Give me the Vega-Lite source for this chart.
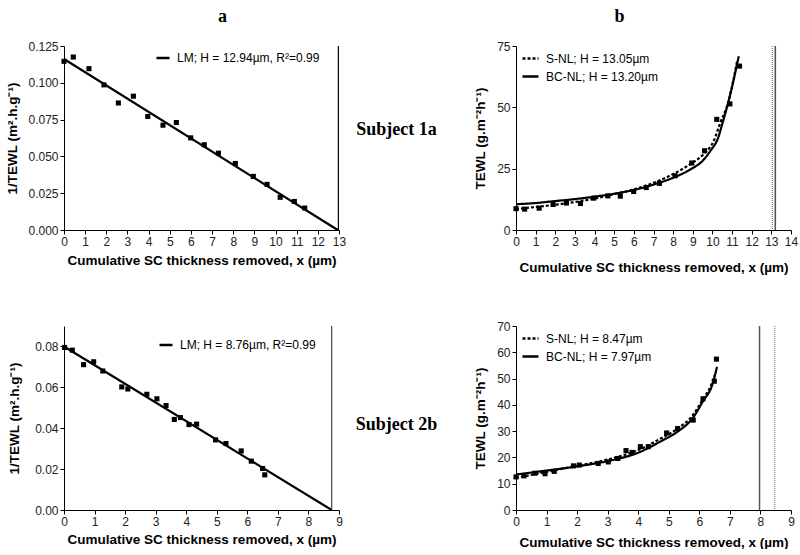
{
  "$schema": "https://vega.github.io/schema/vega-lite/v6.json",
  "padding": {"left": 5, "top": 8, "right": 3, "bottom": 0},
  "background": "white",
  "datasets": {
    "a_pts": [
      {"x": 0, "y": 0.1146}, {"x": 0.44, "y": 0.1175}, {"x": 1.18, "y": 0.1096}, {"x": 1.89, "y": 0.0986},
      {"x": 2.57, "y": 0.0863}, {"x": 3.28, "y": 0.0909}, {"x": 3.96, "y": 0.0771}, {"x": 4.68, "y": 0.0712},
      {"x": 5.31, "y": 0.0730}, {"x": 5.99, "y": 0.0626}, {"x": 6.63, "y": 0.0579}, {"x": 7.30, "y": 0.0522},
      {"x": 8.10, "y": 0.0452}, {"x": 8.95, "y": 0.0364}, {"x": 9.60, "y": 0.0310}, {"x": 10.22, "y": 0.0222},
      {"x": 10.89, "y": 0.0194}, {"x": 11.38, "y": 0.0149}
    ],
    "a_fit": [
      {"model": "LM; H = 12.94µm, R²=0.99", "x": 0, "y": 0.1162},
      {"model": "LM; H = 12.94µm, R²=0.99", "x": 12.94, "y": 0}
    ],
    "a_h": [{"x": 12.97}],
    "b_pts": [
      {"x": 0, "y": 8.7}, {"x": 0.44, "y": 8.5}, {"x": 1.18, "y": 8.9}, {"x": 1.89, "y": 10.4},
      {"x": 2.57, "y": 11.0}, {"x": 3.28, "y": 10.8}, {"x": 3.96, "y": 13.0}, {"x": 4.68, "y": 13.9},
      {"x": 5.31, "y": 13.8}, {"x": 5.99, "y": 15.7}, {"x": 6.63, "y": 17.3}, {"x": 7.30, "y": 19.0},
      {"x": 8.10, "y": 22.1}, {"x": 8.95, "y": 27.3}, {"x": 9.60, "y": 32.3}, {"x": 10.22, "y": 45.1},
      {"x": 10.89, "y": 51.4}, {"x": 11.38, "y": 66.8}
    ],
    "b_curves": [
      {"model": "S-NL; H = 13.05µm", "x": 0, "y": 8.5},
      {"model": "S-NL; H = 13.05µm", "x": 1, "y": 9.4},
      {"model": "S-NL; H = 13.05µm", "x": 2, "y": 10.3},
      {"model": "S-NL; H = 13.05µm", "x": 3, "y": 11.4},
      {"model": "S-NL; H = 13.05µm", "x": 4, "y": 12.8},
      {"model": "S-NL; H = 13.05µm", "x": 5, "y": 14.6},
      {"model": "S-NL; H = 13.05µm", "x": 6, "y": 16.6},
      {"model": "S-NL; H = 13.05µm", "x": 7, "y": 19.2},
      {"model": "S-NL; H = 13.05µm", "x": 8, "y": 22.8},
      {"model": "S-NL; H = 13.05µm", "x": 8.9, "y": 27.0},
      {"model": "S-NL; H = 13.05µm", "x": 9.56, "y": 31.0},
      {"model": "S-NL; H = 13.05µm", "x": 10.07, "y": 36.4},
      {"model": "S-NL; H = 13.05µm", "x": 10.41, "y": 43.9},
      {"model": "S-NL; H = 13.05µm", "x": 10.78, "y": 51.4},
      {"model": "S-NL; H = 13.05µm", "x": 11.26, "y": 69.0},
      {"model": "BC-NL; H = 13.20µm", "x": 0, "y": 10.5},
      {"model": "BC-NL; H = 13.20µm", "x": 1, "y": 11.0},
      {"model": "BC-NL; H = 13.20µm", "x": 2, "y": 11.8},
      {"model": "BC-NL; H = 13.20µm", "x": 3, "y": 12.6},
      {"model": "BC-NL; H = 13.20µm", "x": 4, "y": 13.6},
      {"model": "BC-NL; H = 13.20µm", "x": 5, "y": 14.8},
      {"model": "BC-NL; H = 13.20µm", "x": 6, "y": 16.3},
      {"model": "BC-NL; H = 13.20µm", "x": 7, "y": 18.5},
      {"model": "BC-NL; H = 13.20µm", "x": 8, "y": 21.3},
      {"model": "BC-NL; H = 13.20µm", "x": 8.9, "y": 24.8},
      {"model": "BC-NL; H = 13.20µm", "x": 9.5, "y": 28.2},
      {"model": "BC-NL; H = 13.20µm", "x": 9.9, "y": 32.3},
      {"model": "BC-NL; H = 13.20µm", "x": 10.3, "y": 37.8},
      {"model": "BC-NL; H = 13.20µm", "x": 10.5, "y": 43.2},
      {"model": "BC-NL; H = 13.20µm", "x": 10.9, "y": 55.0},
      {"model": "BC-NL; H = 13.20µm", "x": 11.34, "y": 70.8}
    ],
    "b_h": [{"x": 13.05, "kind": "S-NL"}, {"x": 13.2, "kind": "BC-NL"}],
    "c_pts": [
      {"x": 0.02, "y": 0.0795}, {"x": 0.27, "y": 0.0782}, {"x": 0.64, "y": 0.0711}, {"x": 0.97, "y": 0.0725},
      {"x": 1.27, "y": 0.0680}, {"x": 1.89, "y": 0.0602}, {"x": 2.09, "y": 0.0592}, {"x": 2.71, "y": 0.0566},
      {"x": 3.04, "y": 0.0544}, {"x": 3.34, "y": 0.0511}, {"x": 3.61, "y": 0.0443}, {"x": 3.81, "y": 0.0452},
      {"x": 4.09, "y": 0.0418}, {"x": 4.34, "y": 0.0420}, {"x": 4.96, "y": 0.0343}, {"x": 5.30, "y": 0.0325},
      {"x": 5.80, "y": 0.0289}, {"x": 6.13, "y": 0.0239}, {"x": 6.50, "y": 0.0203}, {"x": 6.57, "y": 0.0172}
    ],
    "c_fit": [
      {"model": "LM; H = 8.76µm, R²=0.99", "x": 0, "y": 0.0800},
      {"model": "LM; H = 8.76µm, R²=0.99", "x": 8.76, "y": 0}
    ],
    "c_h": [{"x": 8.76}],
    "d_pts": [
      {"x": 0, "y": 12.6}, {"x": 0.26, "y": 13.0}, {"x": 0.62, "y": 14.0}, {"x": 0.95, "y": 13.8},
      {"x": 1.25, "y": 14.7}, {"x": 1.88, "y": 16.8}, {"x": 2.07, "y": 17.1}, {"x": 2.69, "y": 17.7},
      {"x": 3.02, "y": 18.3}, {"x": 3.33, "y": 19.6}, {"x": 3.6, "y": 22.6}, {"x": 3.8, "y": 21.9},
      {"x": 4.07, "y": 24.1}, {"x": 4.33, "y": 24.1}, {"x": 4.93, "y": 29.3}, {"x": 5.29, "y": 31.0},
      {"x": 5.8, "y": 34.2}, {"x": 6.12, "y": 42.3}, {"x": 6.49, "y": 49.0}, {"x": 6.56, "y": 57.4}
    ],
    "d_curves": [
      {"model": "S-NL; H = 8.47µm", "x": 0, "y": 12.2},
      {"model": "S-NL; H = 8.47µm", "x": 1, "y": 14.5},
      {"model": "S-NL; H = 8.47µm", "x": 2, "y": 16.8},
      {"model": "S-NL; H = 8.47µm", "x": 3, "y": 19.2},
      {"model": "S-NL; H = 8.47µm", "x": 4, "y": 22.8},
      {"model": "S-NL; H = 8.47µm", "x": 4.75, "y": 27.3},
      {"model": "S-NL; H = 8.47µm", "x": 5.3, "y": 31.0},
      {"model": "S-NL; H = 8.47µm", "x": 5.78, "y": 36.0},
      {"model": "S-NL; H = 8.47µm", "x": 6.11, "y": 42.0},
      {"model": "S-NL; H = 8.47µm", "x": 6.44, "y": 49.0},
      {"model": "S-NL; H = 8.47µm", "x": 6.55, "y": 53.0},
      {"model": "BC-NL; H = 7.97µm", "x": 0, "y": 13.5},
      {"model": "BC-NL; H = 7.97µm", "x": 1, "y": 15.0},
      {"model": "BC-NL; H = 7.97µm", "x": 2, "y": 16.6},
      {"model": "BC-NL; H = 7.97µm", "x": 3, "y": 18.6},
      {"model": "BC-NL; H = 7.97µm", "x": 4, "y": 21.8},
      {"model": "BC-NL; H = 7.97µm", "x": 4.75, "y": 26.2},
      {"model": "BC-NL; H = 7.97µm", "x": 5.3, "y": 29.9},
      {"model": "BC-NL; H = 7.97µm", "x": 5.78, "y": 34.9},
      {"model": "BC-NL; H = 7.97µm", "x": 6.11, "y": 41.2},
      {"model": "BC-NL; H = 7.97µm", "x": 6.44, "y": 48.2},
      {"model": "BC-NL; H = 7.97µm", "x": 6.58, "y": 54.5}
    ],
    "d_h": [{"x": 7.97, "kind": "BC-NL"}, {"x": 8.47, "kind": "S-NL"}]
  },
  "columns": 3,
  "spacing": {"row": 96, "column": 0},
  "bounds": "flush",
  "resolve": {
    "scale": {"color": "independent", "strokeDash": "independent"},
    "legend": {"color": "independent", "strokeDash": "independent"}
  },
  "concat": [
    {
      "width": 275, "height": 184,
      "title": {"text": "a", "font": "Liberation Serif", "fontSize": 18, "fontWeight": "bold", "frame": "group", "anchor": "middle", "dx": 21, "offset": 14},
      "layer": [
        {
          "data": {"name": "a_fit"},
          "mark": {"type": "line", "strokeWidth": 2.2},
          "encoding": {
            "x": {"field": "x", "type": "quantitative", "scale": {"domain": [0, 13], "nice": false},
              "axis": {"title": "Cumulative SC thickness removed, x (µm)", "values": [0,1,2,3,4,5,6,7,8,9,10,11,12,13], "format": "d", "tickCount": 30, "labelOverlap": false, "titlePadding": 6}},
            "y": {"field": "y", "type": "quantitative", "scale": {"domain": [0, 0.125], "nice": false},
              "axis": {"title": "1/TEWL (m².h.g⁻¹)", "values": [0, 0.025, 0.05, 0.075, 0.1, 0.125], "tickCount": 30, "labelOverlap": false, "format": ".3f", "titlePadding": 8}},
            "color": {"field": "model", "type": "nominal", "scale": {"range": ["black"]},
              "legend": {"title": null, "orient": "none", "legendX": 91, "legendY": 4, "symbolSize": 169}}
          }
        },
        {
          "data": {"name": "a_pts"},
          "mark": {"type": "square", "filled": true, "color": "black", "size": 26, "opacity": 1},
          "encoding": {"x": {"field": "x", "type": "quantitative"}, "y": {"field": "y", "type": "quantitative"}}
        },
        {
          "data": {"name": "a_h"},
          "mark": {"type": "rule", "color": "black", "strokeWidth": 1.2},
          "encoding": {"x": {"field": "x", "type": "quantitative"}}
        }
      ]
    },
    {
      "width": 177, "height": 184,
      "data": {"values": [{"label": "Subject 1a"}]},
      "mark": {"type": "text", "font": "Liberation Serif", "fontSize": 18, "fontWeight": "bold", "color": "black", "dx": -31, "dy": -8},
      "encoding": {"text": {"field": "label"}}
    },
    {
      "width": 275, "height": 184,
      "title": {"text": "b", "font": "Liberation Serif", "fontSize": 18, "fontWeight": "bold", "frame": "group", "anchor": "middle", "dx": -34, "offset": 14},
      "layer": [
        {
          "data": {"name": "b_curves"},
          "mark": {"type": "line", "strokeWidth": 2.2, "color": "black", "interpolate": "monotone"},
          "encoding": {
            "x": {"field": "x", "type": "quantitative", "scale": {"domain": [0, 14], "nice": false},
              "axis": {"title": "Cumulative SC thickness removed, x (µm)", "values": [0,1,2,3,4,5,6,7,8,9,10,11,12,13,14], "format": "d", "tickCount": 30, "labelOverlap": false, "titlePadding": 13}},
            "y": {"field": "y", "type": "quantitative", "scale": {"domain": [0, 75], "nice": false},
              "axis": {"title": "TEWL (g.m⁻²h⁻¹)", "values": [0, 25, 50, 75], "format": "d", "tickCount": 30, "labelOverlap": false, "titlePadding": 9}},
            "strokeDash": {"field": "model", "type": "nominal",
              "scale": {"domain": ["S-NL; H = 13.05µm", "BC-NL; H = 13.20µm"], "range": [[3, 2], [1, 0]]},
              "legend": {"title": null, "orient": "none", "legendX": 5, "legendY": 3, "symbolSize": 256, "symbolStrokeColor": "black", "rowPadding": 2}}
          }
        },
        {
          "data": {"name": "b_pts"},
          "mark": {"type": "square", "filled": true, "color": "black", "size": 26, "opacity": 1},
          "encoding": {"x": {"field": "x", "type": "quantitative"}, "y": {"field": "y", "type": "quantitative"}}
        },
        {
          "data": {"name": "b_h"},
          "transform": [{"filter": "datum.kind == 'S-NL'"}],
          "mark": {"type": "rule", "color": "#666", "strokeWidth": 1, "strokeDash": [1, 1]},
          "encoding": {"x": {"field": "x", "type": "quantitative"}}
        },
        {
          "data": {"name": "b_h"},
          "transform": [{"filter": "datum.kind == 'BC-NL'"}],
          "mark": {"type": "rule", "color": "#555", "strokeWidth": 1.6},
          "encoding": {"x": {"field": "x", "type": "quantitative"}}
        }
      ]
    },
    {
      "width": 275, "height": 184,
      "layer": [
        {
          "data": {"name": "c_fit"},
          "mark": {"type": "line", "strokeWidth": 2.2},
          "encoding": {
            "x": {"field": "x", "type": "quantitative", "scale": {"domain": [0, 9], "nice": false},
              "axis": {"title": "Cumulative SC thickness removed, x (µm)", "values": [0,1,2,3,4,5,6,7,8,9], "format": "d", "tickCount": 30, "labelOverlap": false, "titlePadding": 5}},
            "y": {"field": "y", "type": "quantitative", "scale": {"domain": [0, 0.09], "nice": false},
              "axis": {"title": "1/TEWL (m².h.g⁻¹)", "values": [0, 0.02, 0.04, 0.06, 0.08], "tickCount": 30, "labelOverlap": false, "format": ".2f", "titlePadding": 13}},
            "color": {"field": "model", "type": "nominal", "scale": {"range": ["black"]},
              "legend": {"title": null, "orient": "none", "legendX": 94, "legendY": 11, "symbolSize": 169}}
          }
        },
        {
          "data": {"name": "c_pts"},
          "mark": {"type": "square", "filled": true, "color": "black", "size": 26, "opacity": 1},
          "encoding": {"x": {"field": "x", "type": "quantitative"}, "y": {"field": "y", "type": "quantitative"}}
        },
        {
          "data": {"name": "c_h"},
          "mark": {"type": "rule", "color": "#444", "strokeWidth": 1.2},
          "encoding": {"x": {"field": "x", "type": "quantitative"}}
        }
      ]
    },
    {
      "width": 177, "height": 184,
      "data": {"values": [{"label": "Subject 2b"}]},
      "mark": {"type": "text", "font": "Liberation Serif", "fontSize": 18, "fontWeight": "bold", "color": "black", "dx": -31, "dy": 7},
      "encoding": {"text": {"field": "label"}}
    },
    {
      "width": 275, "height": 184,
      "layer": [
        {
          "data": {"name": "d_curves"},
          "mark": {"type": "line", "strokeWidth": 2.2, "color": "black", "interpolate": "monotone"},
          "encoding": {
            "x": {"field": "x", "type": "quantitative", "scale": {"domain": [0, 9], "nice": false},
              "axis": {"title": "Cumulative SC thickness removed, x (µm)", "values": [0,1,2,3,4,5,6,7,8,9], "format": "d", "tickCount": 30, "labelOverlap": false, "titlePadding": 8}},
            "y": {"field": "y", "type": "quantitative", "scale": {"domain": [0, 70], "nice": false},
              "axis": {"title": "TEWL (g.m⁻²h⁻¹)", "values": [0, 10, 20, 30, 40, 50, 60, 70], "format": "d", "tickCount": 30, "labelOverlap": false, "titlePadding": 9}},
            "strokeDash": {"field": "model", "type": "nominal",
              "scale": {"domain": ["S-NL; H = 8.47µm", "BC-NL; H = 7.97µm"], "range": [[3, 2], [1, 0]]},
              "legend": {"title": null, "orient": "none", "legendX": 5, "legendY": 3, "symbolSize": 256, "symbolStrokeColor": "black", "rowPadding": 2}}
          }
        },
        {
          "data": {"name": "d_pts"},
          "mark": {"type": "square", "filled": true, "color": "black", "size": 26, "opacity": 1},
          "encoding": {"x": {"field": "x", "type": "quantitative"}, "y": {"field": "y", "type": "quantitative"}}
        },
        {
          "data": {"name": "d_h"},
          "transform": [{"filter": "datum.kind == 'BC-NL'"}],
          "mark": {"type": "rule", "color": "#555", "strokeWidth": 1.5},
          "encoding": {"x": {"field": "x", "type": "quantitative"}}
        },
        {
          "data": {"name": "d_h"},
          "transform": [{"filter": "datum.kind == 'S-NL'"}],
          "mark": {"type": "rule", "color": "#666", "strokeWidth": 1, "strokeDash": [1, 1]},
          "encoding": {"x": {"field": "x", "type": "quantitative"}}
        }
      ]
    }
  ],
  "config": {
    "font": "Liberation Sans",
    "view": {"stroke": null},
    "axis": {
      "grid": false, "domainColor": "black", "domainWidth": 1, "tickColor": "black", "tickSize": 4, "tickWidth": 1,
      "labelFont": "Liberation Sans", "labelFontSize": 12, "labelColor": "#222", "labelPadding": 2,
      "titleFont": "Liberation Sans", "titleFontSize": 13.5, "titleFontWeight": "bold", "titleColor": "black",
      "labelOverlap": false
    },
    "axisX": {"labelFlush": false},
    "legend": {
      "labelFont": "Liberation Sans", "labelFontSize": 12, "labelColor": "black", "symbolType": "stroke",
      "symbolStrokeWidth": 2.5, "padding": 0, "labelOffset": 6, "labelLimit": 300
    }
  }
}
